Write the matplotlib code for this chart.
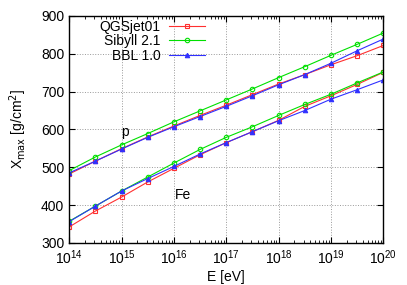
import numpy as np
import matplotlib
matplotlib.use('Agg')
import matplotlib.pyplot as plt
from matplotlib.ticker import LogLocator, FixedLocator, NullFormatter

plt.rcParams['font.family'] = ['Liberation Sans', 'DejaVu Sans']

#%% data (log10 of energy in eV, Xmax in g/cm^2)
log_e = [14.0, 14.5, 15.0, 15.5, 16.0, 16.5, 17.0, 17.5, 18.0, 18.5, 19.0, 19.5, 20.0]

# proton
p_qgs = [482, 516, 549, 580, 609, 637, 664, 692, 720, 745, 771, 795, 822]
p_sib = [491, 527, 559, 589, 620, 649, 678, 707, 737, 766, 796, 825, 855]
p_bbl = [485, 516, 548, 579, 607, 634, 661, 689, 718, 745, 775, 808, 839]

# iron
fe_qgs = [342, 384, 421, 461, 497, 533, 565, 594, 624, 661, 689, 719, 751]
fe_sib = [357, 397, 437, 474, 511, 547, 579, 607, 637, 666, 693, 723, 752]
fe_bbl = [356, 397, 437, 470, 502, 535, 565, 594, 623, 650, 680, 705, 731]

labels = ['QGSjet01', 'Sibyll 2.1', 'BBL 1.0']
colors = ['#ff3030', '#00e000', '#3030ff']
markers = ['s', 'o', '^']
fills = ['none', 'none', 'full']

#%% plot
energy = 10.0 ** np.array(log_e)
f, ax = plt.subplots(figsize=[4.07, 2.85], dpi=100)
f.subplots_adjust(left=0.17, right=0.942, top=0.944, bottom=0.148)

for i, (p, fe) in enumerate([(p_qgs, fe_qgs), (p_sib, fe_sib), (p_bbl, fe_bbl)]):
    mfc = colors[i] if fills[i] == 'full' else 'none'
    ax.plot(energy, p, color=colors[i], marker=markers[i], ms=3.2, mfc=mfc,
            mew=0.8, lw=0.8, label=labels[i])
    ax.plot(energy, fe, color=colors[i], marker=markers[i], ms=3.2, mfc=mfc,
            mew=0.8, lw=0.8)

ax.set_xscale('log')
ax.set_xlim(1e14, 1e20)
ax.set_ylim(300, 900)
ax.xaxis.set_major_locator(LogLocator(base=10, numticks=10))
ax.xaxis.set_minor_locator(LogLocator(base=10, subs=np.arange(2, 10), numticks=20))
ax.xaxis.set_minor_formatter(NullFormatter())
ax.yaxis.set_major_locator(FixedLocator([300, 400, 500, 600, 700, 800, 900]))
ax.tick_params(which='both', direction='in', top=True, right=True, labelsize=10)
ax.tick_params(which='major', length=4, width=0.8)
ax.tick_params(which='minor', length=2, width=0.6)
ax.tick_params(axis='x', which='major', pad=4)
ax.grid(True, which='major', linestyle=':', color='#999999', lw=0.7)
for s in ax.spines.values():
    s.set_linewidth(1.0)

ax.set_xlabel('E [eV]', fontsize=10, labelpad=2.5)
ax.set_ylabel('X$_{\\mathrm{max}}$ [g/cm$^2$]', fontsize=10, labelpad=9)

ax.text(10 ** 15.07, 594, 'p', fontsize=10, ha='center', va='center')
ax.text(10 ** 16.17, 427, 'Fe', fontsize=10, ha='center', va='center')

leg = ax.legend(loc='upper left', frameon=False, fontsize=10, markerfirst=False,
                handlelength=2.6, handletextpad=0.6, labelspacing=0.05,
                borderaxespad=0.3, bbox_to_anchor=(0.065, 1.027))
for t in leg.get_texts():
    t.set_ha('right')
leg._legend_box.align = 'right'

f.savefig('out.png', dpi=100)
